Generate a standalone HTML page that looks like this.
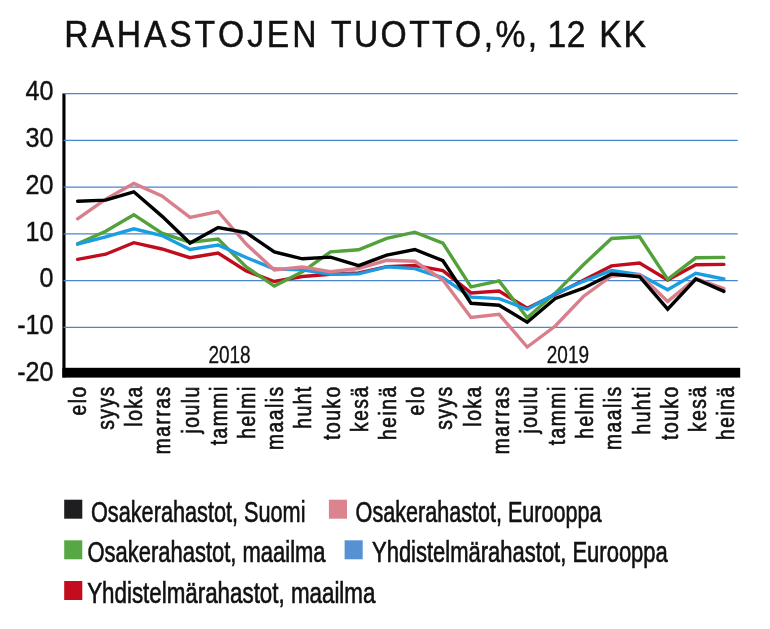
<!DOCTYPE html>
<html lang="fi"><head><meta charset="utf-8"><title>Rahastojen tuotto</title>
<style>
html,body{margin:0;padding:0;background:#fff}
body{width:770px;height:629px;overflow:hidden}
svg{display:block}
text{font-family:"Liberation Sans",sans-serif;fill:#111}
.cond{stroke:#111;stroke-width:0.65px}
text.yr{stroke:#111;stroke-width:0.3px}
text.yl{stroke:#111;stroke-width:0.4px}
.ttl{stroke:#111;stroke-width:0.5px;font-kerning:none}
.ser{fill:none;stroke-width:3.4;stroke-linecap:round;stroke-linejoin:miter}
</style></head><body>
<svg width="770" height="629" viewBox="0 0 770 629">
<rect width="770" height="629" fill="#fff"/>
<text class="ttl" transform="translate(64.24,47.2) scale(0.92,1)" font-size="36.6" letter-spacing="3.131">RAHASTOJEN</text>
<text class="ttl" transform="translate(330.94,47.2) scale(0.92,1)" font-size="36.6" letter-spacing="2.599">TUOTTO,%,</text>
<text class="ttl" transform="translate(547.54,47.2) scale(0.92,1)" font-size="36.6" letter-spacing="0.549">12</text>
<text class="ttl" transform="translate(599.34,47.2) scale(0.92,1)" font-size="36.6" letter-spacing="1.872">KK</text>
<rect x="62.4" y="93.4" width="3.1" height="284" fill="#000"/>
<rect x="62.4" y="367.8" width="677.8" height="9.8" fill="#000"/>
<line x1="64.1" x2="737.3" y1="93.53" y2="93.53" stroke="#4a86cd" stroke-width="1.3" stroke-linecap="round"/>
<line x1="64.1" x2="737.3" y1="140.31" y2="140.31" stroke="#4a86cd" stroke-width="1.3" stroke-linecap="round"/>
<line x1="64.1" x2="737.3" y1="187.09" y2="187.09" stroke="#4a86cd" stroke-width="1.3" stroke-linecap="round"/>
<line x1="64.1" x2="737.3" y1="233.87" y2="233.87" stroke="#4a86cd" stroke-width="1.3" stroke-linecap="round"/>
<line x1="64.1" x2="737.3" y1="280.65" y2="280.65" stroke="#4a86cd" stroke-width="1.3" stroke-linecap="round"/>
<line x1="64.1" x2="737.3" y1="327.43" y2="327.43" stroke="#4a86cd" stroke-width="1.3" stroke-linecap="round"/>
<text transform="translate(53.5,100.23) scale(0.93,1)" class="yl" font-size="27" text-anchor="end">40</text>
<text transform="translate(53.5,147.01) scale(0.93,1)" class="yl" font-size="27" text-anchor="end">30</text>
<text transform="translate(53.5,193.79) scale(0.93,1)" class="yl" font-size="27" text-anchor="end">20</text>
<text transform="translate(53.5,240.57) scale(0.93,1)" class="yl" font-size="27" text-anchor="end">10</text>
<text transform="translate(53.5,287.35) scale(0.93,1)" class="yl" font-size="27" text-anchor="end">0</text>
<text transform="translate(53.5,334.13) scale(0.93,1)" class="yl" font-size="27" text-anchor="end">-10</text>
<text transform="translate(53.5,380.91) scale(0.93,1)" class="yl" font-size="27" text-anchor="end">-20</text>
<polyline class="ser" stroke="#c00d1e" points="77.6,259.4 105.7,254.2 133.8,242.7 161.9,249.0 190.0,257.7 218.1,253.0 246.2,271.0 274.3,281.5 302.4,276.5 330.5,274.2 358.6,273.0 386.7,266.6 414.8,265.5 442.9,270.6 471.0,292.9 499.1,291.0 527.2,308.3 555.3,294.4 583.4,280.3 611.5,265.9 639.6,263.1 667.7,280.0 695.8,264.8 723.9,264.4"/>
<polyline class="ser" stroke="#52a13a" points="77.6,243.8 105.7,231.3 133.8,214.7 161.9,233.2 190.0,242.3 218.1,239.0 246.2,266.9 274.3,286.1 302.4,271.8 330.5,251.8 358.6,249.8 386.7,238.4 414.8,232.2 442.9,243.2 471.0,286.9 499.1,280.9 527.2,317.7 555.3,293.1 583.4,264.7 611.5,238.5 639.6,236.8 667.7,279.4 695.8,257.8 723.9,257.4"/>
<polyline class="ser" stroke="#1b9de2" points="77.6,244.2 105.7,236.9 133.8,228.8 161.9,235.5 190.0,249.4 218.1,245.0 246.2,257.5 274.3,269.0 302.4,269.7 330.5,274.4 358.6,273.9 386.7,266.9 414.8,268.6 442.9,277.9 471.0,297.2 499.1,298.6 527.2,309.4 555.3,293.8 583.4,281.3 611.5,270.5 639.6,274.7 667.7,289.8 695.8,273.4 723.9,279.0"/>
<polyline class="ser" stroke="#d97f8c" points="77.6,218.8 105.7,199.1 133.8,183.5 161.9,196.0 190.0,217.4 218.1,211.5 246.2,244.0 274.3,270.0 302.4,267.0 330.5,271.8 358.6,268.5 386.7,260.3 414.8,261.3 442.9,280.0 471.0,317.4 499.1,314.4 527.2,347.0 555.3,326.0 583.4,296.5 611.5,276.0 639.6,274.4 667.7,301.4 695.8,278.5 723.9,288.7"/>
<polyline class="ser" stroke="#000000" points="77.6,201.2 105.7,200.1 133.8,191.8 161.9,216.1 190.0,243.1 218.1,227.5 246.2,232.6 274.3,252.0 302.4,258.8 330.5,257.1 358.6,265.6 386.7,255.1 414.8,249.5 442.9,260.7 471.0,303.3 499.1,305.2 527.2,322.2 555.3,298.5 583.4,288.2 611.5,274.1 639.6,276.7 667.7,309.1 695.8,279.0 723.9,291.4"/>
<text class="yr" transform="translate(229.5,363.3) scale(0.815,1)" font-size="23.3" text-anchor="middle">2018</text>
<text class="yr" transform="translate(567.9,363.3) scale(0.815,1)" font-size="23.3" text-anchor="middle">2019</text>
<text class="cond" transform="translate(85.8,385.3) rotate(-90) scale(0.79,1)" x="0" y="0" font-size="24.4" letter-spacing="1.9" text-anchor="end">elo</text>
<text class="cond" transform="translate(114.0,385.3) rotate(-90) scale(0.79,1)" x="0" y="0" font-size="24.4" letter-spacing="1.9" text-anchor="end">syys</text>
<text class="cond" transform="translate(142.2,385.3) rotate(-90) scale(0.79,1)" x="0" y="0" font-size="24.4" letter-spacing="1.9" text-anchor="end">loka</text>
<text class="cond" transform="translate(170.4,385.3) rotate(-90) scale(0.79,1)" x="0" y="0" font-size="24.4" letter-spacing="1.9" text-anchor="end">marras</text>
<text class="cond" transform="translate(198.6,385.3) rotate(-90) scale(0.79,1)" x="0" y="0" font-size="24.4" letter-spacing="1.9" text-anchor="end">joulu</text>
<text class="cond" transform="translate(226.8,385.3) rotate(-90) scale(0.79,1)" x="0" y="0" font-size="24.4" letter-spacing="1.9" text-anchor="end">tammi</text>
<text class="cond" transform="translate(254.9,385.3) rotate(-90) scale(0.79,1)" x="0" y="0" font-size="24.4" letter-spacing="1.9" text-anchor="end">helmi</text>
<text class="cond" transform="translate(283.1,385.3) rotate(-90) scale(0.79,1)" x="0" y="0" font-size="24.4" letter-spacing="1.9" text-anchor="end">maalis</text>
<text class="cond" transform="translate(311.3,385.3) rotate(-90) scale(0.79,1)" x="0" y="0" font-size="24.4" letter-spacing="1.9" text-anchor="end">huht</text>
<text class="cond" transform="translate(339.5,385.3) rotate(-90) scale(0.79,1)" x="0" y="0" font-size="24.4" letter-spacing="1.9" text-anchor="end">touko</text>
<text class="cond" transform="translate(367.7,385.3) rotate(-90) scale(0.79,1)" x="0" y="0" font-size="24.4" letter-spacing="1.9" text-anchor="end">kesä</text>
<text class="cond" transform="translate(395.9,385.3) rotate(-90) scale(0.79,1)" x="0" y="0" font-size="24.4" letter-spacing="1.9" text-anchor="end">heinä</text>
<text class="cond" transform="translate(424.1,385.3) rotate(-90) scale(0.79,1)" x="0" y="0" font-size="24.4" letter-spacing="1.9" text-anchor="end">elo</text>
<text class="cond" transform="translate(452.3,385.3) rotate(-90) scale(0.79,1)" x="0" y="0" font-size="24.4" letter-spacing="1.9" text-anchor="end">syys</text>
<text class="cond" transform="translate(480.5,385.3) rotate(-90) scale(0.79,1)" x="0" y="0" font-size="24.4" letter-spacing="1.9" text-anchor="end">loka</text>
<text class="cond" transform="translate(508.7,385.3) rotate(-90) scale(0.79,1)" x="0" y="0" font-size="24.4" letter-spacing="1.9" text-anchor="end">marras</text>
<text class="cond" transform="translate(536.8,385.3) rotate(-90) scale(0.79,1)" x="0" y="0" font-size="24.4" letter-spacing="1.9" text-anchor="end">joulu</text>
<text class="cond" transform="translate(565.0,385.3) rotate(-90) scale(0.79,1)" x="0" y="0" font-size="24.4" letter-spacing="1.9" text-anchor="end">tammi</text>
<text class="cond" transform="translate(593.2,385.3) rotate(-90) scale(0.79,1)" x="0" y="0" font-size="24.4" letter-spacing="1.9" text-anchor="end">helmi</text>
<text class="cond" transform="translate(621.4,385.3) rotate(-90) scale(0.79,1)" x="0" y="0" font-size="24.4" letter-spacing="1.9" text-anchor="end">maalis</text>
<text class="cond" transform="translate(649.6,385.3) rotate(-90) scale(0.79,1)" x="0" y="0" font-size="24.4" letter-spacing="1.9" text-anchor="end">huhti</text>
<text class="cond" transform="translate(677.8,385.3) rotate(-90) scale(0.79,1)" x="0" y="0" font-size="24.4" letter-spacing="1.9" text-anchor="end">touko</text>
<text class="cond" transform="translate(706.0,385.3) rotate(-90) scale(0.79,1)" x="0" y="0" font-size="24.4" letter-spacing="1.9" text-anchor="end">kesä</text>
<text class="cond" transform="translate(734.2,385.3) rotate(-90) scale(0.79,1)" x="0" y="0" font-size="24.4" letter-spacing="1.9" text-anchor="end">heinä</text>
<rect x="64.2" y="499.7" width="18.1" height="19.0" fill="#1e1e20"/>
<text class="cond" x="91.0" y="521.7" font-size="30" textLength="214.5" lengthAdjust="spacingAndGlyphs">Osakerahastot, Suomi</text>
<rect x="328.9" y="499.7" width="18.1" height="19.0" fill="#dc8390"/>
<text class="cond" x="355.6" y="521.7" font-size="30" textLength="246.0" lengthAdjust="spacingAndGlyphs">Osakerahastot, Eurooppa</text>
<rect x="64.2" y="540.3" width="18.1" height="19.0" fill="#57a845"/>
<text class="cond" x="87.4" y="562.2" font-size="30" textLength="238.2" lengthAdjust="spacingAndGlyphs">Osakerahastot, maailma</text>
<rect x="344.6" y="540.3" width="18.1" height="19.0" fill="#5692d3"/>
<text class="cond" x="372.0" y="562.2" font-size="30" textLength="295.8" lengthAdjust="spacingAndGlyphs">Yhdistelmärahastot, Eurooppa</text>
<rect x="64.2" y="581.0" width="18.1" height="19.0" fill="#c30d1e"/>
<text class="cond" x="87.2" y="602.7" font-size="30" textLength="288.2" lengthAdjust="spacingAndGlyphs">Yhdistelmärahastot, maailma</text>
</svg>
</body></html>
